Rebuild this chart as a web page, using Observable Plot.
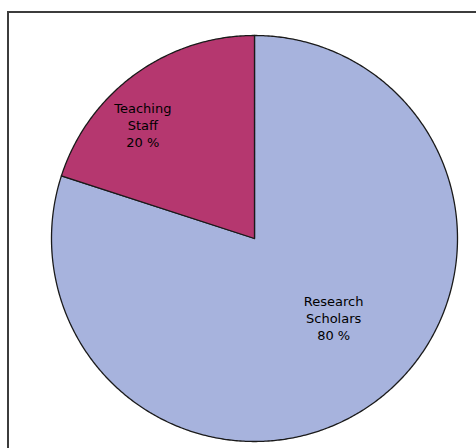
<!DOCTYPE html>
<html>
<head>
<meta charset="utf-8">
<script src="https://cdn.jsdelivr.net/npm/d3@7"></script>
<script src="https://cdn.jsdelivr.net/npm/@observablehq/plot@0.6"></script>
<style>
  html, body { margin: 0; padding: 0; background: #fff; overflow: hidden; }
  #wrap { position: relative; width: 476px; height: 448px; }
  #border { position: absolute; left: 7px; top: 11px; width: 600px; height: 600px;
            border-left: 2px solid #3c3c3c; border-top: 2px solid #3c3c3c; box-sizing: border-box; }
  #chart { position: absolute; left: 0; top: 0; }
</style>
</head>
<body>
<div id="wrap"><div id="border"></div><div id="chart"></div></div>
<script>
// Data
const categories = ["Research Scholars", "Teaching Staff"];
const values = [80, 20];
const labelLines = [["Research", "Scholars", "80 %"], ["Teaching", "Staff", "20 %"]];
const colors = ["#a7b3dd", "#b5376f"];
// label anchor positions (fraction of radius), layout only
const labelPos = [[0.39, -0.39], [-0.55, 0.56]];

const pie = d3.pie().sort(null).value(d => d.value).startAngle(0).endAngle(2 * Math.PI);
const arcs = pie(categories.map((c, i) => ({category: c, value: values[i]})));

const slicePts = [];
for (const a of arcs) {
  const c = a.data.category;
  slicePts.push({category: c, x: 0, y: 0});
  const n = Math.max(2, Math.ceil((a.endAngle - a.startAngle) / (Math.PI / 360)));
  for (let k = 0; k <= n; k++) {
    const t = a.startAngle + (a.endAngle - a.startAngle) * k / n;
    slicePts.push({category: c, x: Math.sin(t), y: Math.cos(t)});
  }
  slicePts.push({category: c, x: 0, y: 0});
}

const labels = categories.map((c, i) => ({
  category: c, text: labelLines[i].join("\n"), x: labelPos[i][0], y: labelPos[i][1]
}));

const cx = 254, cy = 238, r = 203;
const chart = Plot.plot({
  width: 476,
  height: 448,
  margin: 0,
  x: {domain: [-1, 1], range: [cx - r, cx + r], axis: null},
  y: {domain: [-1, 1], range: [cy + r, cy - r], axis: null},
  color: {domain: categories, range: colors},
  style: {background: "transparent"},
  marks: [
    Plot.line(slicePts, {x: "x", y: "y", z: "category", fill: "category",
      stroke: "#1a1a1a", strokeWidth: 1.3, curve: "linear", strokeLinejoin: "round"}),
    Plot.text(labels, {x: "x", y: "y", text: "text", fill: "#000",
      fontSize: 13, lineHeight: 1.3, fontFamily: "DejaVu Sans, Verdana, sans-serif"})
  ]
});
document.getElementById("chart").append(chart);
</script>
</body>
</html>
